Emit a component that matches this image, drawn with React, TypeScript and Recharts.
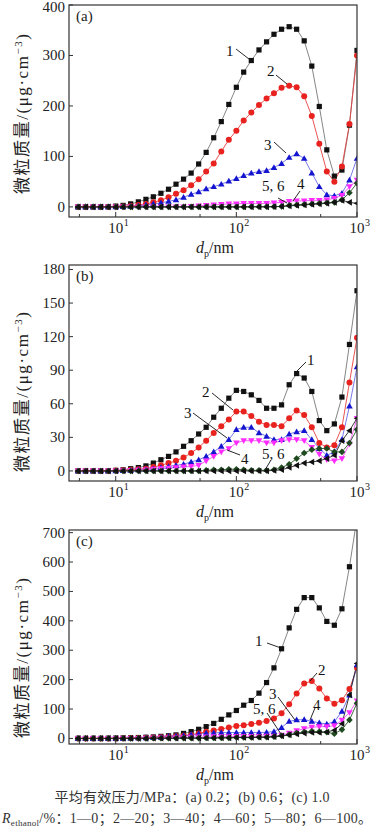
import React from 'react';
import { LineChart, Line, XAxis, YAxis } from 'recharts';

// particle diameters (nm), 16 channels per decade
const SIZES = [
  4.87, 5.62, 6.49, 7.5, 8.66, 10, 11.5, 13.3, 15.4, 17.8, 20.5, 23.7, 27.4, 31.6, 36.5, 42.2, 48.7, 56.2, 64.9,
  75, 86.6, 100, 115, 133, 154, 178, 205, 237, 274, 316, 365, 422, 487, 562, 649, 750, 866, 1000,
];

// (a) 0.2 MPa
const A1 = [0, 0, 0, 0, 0.5, 1.5, 3, 6, 10, 15, 20, 27, 35, 45, 55, 67, 85, 108, 137, 169, 203, 237, 267, 290, 311, 327, 342, 352, 357, 352, 329, 279, 199, 113, 61, 73, 162, 310];
const A2 = [0, 0, 0, 0, 0, 0.5, 1, 2, 4, 6, 9, 13, 19, 26, 33, 43, 55, 70, 86, 110, 133, 151, 171, 187, 202, 215, 225, 236, 240, 237, 219, 180, 125, 70, 50, 80, 164, 300];
const A3 = [0, 0, 0, 0, 0, 0, 0.5, 1, 2, 4, 6, 8, 11, 14, 19, 25, 30, 36, 40, 45, 51, 56, 62, 67, 70, 72, 78, 86, 98, 105, 96, 67, 40, 24, 22, 27, 53, 96];
const A4 = [0, 0, 0, 0, 0, 0, 0, 0, 0, 0, 0, 0, 0, 0, 0, 1, 2, 3, 4, 5, 6, 6, 7, 7, 7, 7, 8, 9, 11, 12, 12, 13, 13, 14, 17, 23, 40, 53];
const A5 = [0, 0, 0, 0, 0, 0, 0, 0, 0, 0, 0, 0, 0, 0, 0, 0, 0, 0, 0, 0, 0, 0, 0, 0.5, 0.5, 0.5, 0.5, 1, 3, 4, 5, 6, 7, 8, 9, 14, 28, 47];
const A6 = [0, 0, 0, 0, 0, 0, 0, 0, 0, 0, 0, 0, 0, 0, 0, 0, 0, 0, 0, 0, 0, 0, 0, 0, 0, 0, 0.5, 1, 2, 3, 4, 5, 6, 7, 9, 13, 9, 7];

// (b) 0.6 MPa
const B1 = [0, 0, 0, 0, 0, 0.5, 1, 2, 3, 4.5, 7, 10, 13, 17, 22, 27, 33, 39, 48, 56, 65, 72, 71, 68, 63, 56, 56, 59, 77, 87, 83, 71, 45, 36, 42, 66, 113, 161];
const B2 = [0, 0, 0, 0, 0, 0.3, 0.5, 1, 1.5, 2, 3.5, 5, 7, 9, 12, 16, 21, 27, 34, 40, 46, 53, 53, 49, 44, 41, 41, 40, 47, 54, 50, 39, 25, 21, 23, 39, 79, 119];
const B3 = [0, 0, 0, 0, 0, 0, 0.3, 0.6, 1, 1.5, 2, 3, 4, 5, 6, 8, 10, 13, 17, 22, 28, 37, 39, 39, 34, 31, 28, 28, 33, 35, 36, 28, 20, 14, 17, 28, 58, 93];
const B4 = [0, 0, 0, 0, 0, 0, 0.3, 0.5, 0.8, 1, 1.5, 2, 2.5, 3, 3.5, 4, 5, 9, 13, 17, 20, 25, 27, 27, 27, 25, 25, 27, 28, 28, 27, 21, 15, 10, 9, 11, 24, 47];
const B5 = [0, 0, 0, 0, 0, 0, 0, 0, 0, 0, 0, 0, 0, 0, 0, 0, 0, 0.5, 1, 1, 1.5, 1.5, 1, 0.5, 0.5, 0.5, 1, 3, 6, 11, 16, 19, 20, 20, 17, 17, 25, 37];
const B6 = [0, 0, 0, 0, 0, 0, 0, 0, 0, 0, 0, 0, 0, 0, 0, 0, 0, 0, 0, 0, 0, 0, 0, 0, 0, 0, 0.5, 1, 3, 5, 7, 8, 9, 11, 14, 27, 36, 47];

// (c) 1.0 MPa
const C1 = [0, 0, 0, 0, 0.5, 1, 1.5, 2, 3, 4, 5, 7, 9, 12, 17, 23, 31, 40, 51, 65, 80, 95, 113, 129, 154, 190, 240, 305, 376, 439, 479, 479, 444, 398, 385, 441, 584, 750];
const C2 = [0, 0, 0, 0, 0, 0, 0.5, 1, 1.5, 2, 3, 4, 5, 7, 9, 12, 17, 23, 27, 32, 37, 42, 45, 49, 53, 59, 68, 86, 116, 153, 187, 195, 170, 136, 118, 130, 168, 240];
const C3 = [0, 0, 0, 0, 0, 0, 0.5, 1, 1.5, 2, 3, 4, 6, 8, 10, 13, 16, 18, 19, 20, 20, 20, 20, 20, 20, 21, 23, 37, 58, 63, 64, 58, 53, 49, 57, 92, 147, 250];
const C4 = [0, 0, 0, 0, 0, 0, 0, 0, 0, 1, 1, 1.5, 2, 2.5, 3, 4, 5, 5, 6, 6, 6, 7, 7, 7, 7, 8, 8, 11, 18, 26, 33, 38, 40, 40, 43, 62, 88, 128];
const C5 = [0, 0, 0, 0, 0, 0, 0, 0, 0, 0, 0.5, 0.5, 0.5, 0.5, 1, 1, 1, 1.5, 1.5, 2, 2, 3, 3, 3, 4, 4, 6, 9, 13, 18, 22, 24, 23, 21, 16, 30, 63, 120];
const C6 = [0, 0, 0, 0, 0, 0, 0, 0, 0, 0, 0.5, 0.5, 0.5, 0.5, 1, 1, 1, 1.5, 1.5, 2, 2, 3, 3, 3, 4, 4, 6, 8, 12, 15, 18, 20, 20, 22, 28, 50, 148, 255];

const X_TICKS = [5, 10, 50, 100, 500, 1000];
const A_TICKS = [0, 100, 200, 300, 400];
const B_TICKS = [0, 30, 60, 90, 120, 150, 180];
const C_TICKS = [0, 100, 200, 300, 400, 500, 600, 700];

const SERIF = '"Liberation Serif", "Times New Roman", "Noto Sans CJK SC", serif';
const W = 376;
const LEFT = 69;
const RIGHT = 357;

const build = (s: number[][]) =>
  SIZES.map((d, i) => ({ d, s1: s[0][i], s2: s[1][i], s3: s[2][i], s4: s[3][i], s5: s[4][i], s6: s[5][i] }));

const marker = (shape: string, fill: string) => (p: any) => {
  const { cx, cy, index } = p;
  if (cx == null || cy == null) return <g key={index} />;
  const r = 3.3;
  if (shape === 'square')
    return <rect key={index} x={cx - 2.6} y={cy - 2.6} width={5.2} height={5.2} fill={fill} />;
  if (shape === 'circle') return <circle key={index} cx={cx} cy={cy} r={3} fill={fill} />;
  let pts = '';
  if (shape === 'up') pts = `${cx},${cy - r} ${cx - r},${cy + 2.4} ${cx + r},${cy + 2.4}`;
  if (shape === 'down') pts = `${cx},${cy + r} ${cx - r},${cy - 2.4} ${cx + r},${cy - 2.4}`;
  if (shape === 'diamond') pts = `${cx},${cy - r} ${cx + r},${cy} ${cx},${cy + r} ${cx - r},${cy}`;
  if (shape === 'left') pts = `${cx - r},${cy} ${cx + 2.4},${cy - r} ${cx + 2.4},${cy + r}`;
  return <polygon key={index} points={pts} fill={fill} />;
};

const SERIES = [
  { key: 's1', line: '#777', fill: '#111', shape: 'square' },
  { key: 's2', line: '#e84040', fill: '#e8231f', shape: 'circle' },
  { key: 's3', line: '#6a6ae8', fill: '#1515d0', shape: 'up' },
  { key: 's4', line: '#f050f0', fill: '#ff2bff', shape: 'down' },
  { key: 's5', line: '#2a5a2a', fill: '#1f4a1f', shape: 'diamond' },
  { key: 's6', line: '#222', fill: '#111', shape: 'left' },
];

const makeXTick = (bottom: number) => (p: any) => {
  const { x, payload } = p;
  const v = payload.value;
  const major = v === 10 || v === 100 || v === 1000;
  const exp = v === 10 ? '1' : v === 100 ? '2' : '3';
  return (
    <g>
      <line x1={x} x2={x} y1={bottom} y2={bottom - (major ? 5 : 3)} stroke="#333" />
      {major && (
        <g fontFamily={SERIF} fill="#222">
          <text x={x} y={bottom + 16} textAnchor="middle" fontSize={15}>10</text>
          <text x={x + 8} y={bottom + 9} fontSize={10}>{exp}</text>
        </g>
      )}
    </g>
  );
};

const YTick = (p: any) => {
  const { y, payload } = p;
  return (
    <g>
      <line x1={LEFT} x2={LEFT + 4} y1={y} y2={y} stroke="#333" />
      <text x={LEFT - 4} y={Math.max(y + 5, 12)} textAnchor="end" fontSize={15} fontFamily={SERIF} fill="#222">
        {payload.value}
      </text>
    </g>
  );
};

function Panel({ top, plotTop, plotBottom, data, domain, ticks }: any) {
  const mTop = plotTop - top;
  const h = plotBottom - top + 25;
  return (
    <div style={{ position: 'absolute', left: 0, top }}>
      <LineChart width={W} height={h} data={data} margin={{ top: mTop, right: W - RIGHT, left: 0, bottom: 0 }}>
        <XAxis
          dataKey="d"
          type="number"
          scale="log"
          domain={[4.1, 1000]}
          allowDataOverflow
          ticks={X_TICKS}
          interval={0}
          height={25}
          axisLine={false}
          tickLine={false}
          tick={makeXTick(plotBottom - top)}
        />
        <YAxis
          type="number"
          domain={domain}
          allowDataOverflow
          ticks={ticks}
          interval={0}
          width={LEFT}
          axisLine={false}
          tickLine={false}
          tick={YTick}
        />
        {SERIES.map((s) => (
          <Line
            key={s.key}
            dataKey={s.key}
            type="linear"
            stroke={s.line}
            strokeWidth={0.9}
            dot={marker(s.shape, s.fill)}
            activeDot={false}
            isAnimationActive={false}
          />
        ))}
      </LineChart>
    </div>
  );
}

const FRAMES = [
  { top: 5, bottom: 217, tag: '(a)' },
  { top: 265, bottom: 481, tag: '(b)' },
  { top: 530, bottom: 744, tag: '(c)' },
];

const YTITLE_Y = [114, 392, 658];

const LEADERS = [
  { t: '1', tx: 226, ty: 56, x1: 236, y1: 49, x2: 249, y2: 59 },
  { t: '2', tx: 267, ty: 76, x1: 276, y1: 75, x2: 287, y2: 84 },
  { t: '3', tx: 264, ty: 150, x1: 274, y1: 142, x2: 286, y2: 153 },
  { t: '5, 6', tx: 262, ty: 191, x1: 278, y1: 198, x2: 287, y2: 203 },
  { t: '4', tx: 297, ty: 189, x1: 300, y1: 191, x2: 293, y2: 201 },
  { t: '1', tx: 307, ty: 365, x1: 306, y1: 362, x2: 296, y2: 372 },
  { t: '2', tx: 202, ty: 397, x1: 212, y1: 393, x2: 233, y2: 410 },
  { t: '3', tx: 184, ty: 418, x1: 193, y1: 413, x2: 227, y2: 438 },
  { t: '4', tx: 241, ty: 464, x1: 240, y1: 455, x2: 227, y2: 450 },
  { t: '5, 6', tx: 262, ty: 459, x1: 271, y1: 460, x2: 265, y2: 470 },
  { t: '1', tx: 255, ty: 646, x1: 267, y1: 643, x2: 281, y2: 648 },
  { t: '2', tx: 318, ty: 675, x1: 317, y1: 673, x2: 310, y2: 681 },
  { t: '3', tx: 269, ty: 699, x1: 278, y1: 697, x2: 295, y2: 720 },
  { t: '4', tx: 313, ty: 710, x1: 315, y1: 708, x2: 310, y2: 720 },
  { t: '5, 6', tx: 253, ty: 714, x1: 267, y1: 713, x2: 281, y2: 734 },
];

function Overlay() {
  return (
    <svg width={W} height={833} style={{ position: 'absolute', left: 0, top: 0, pointerEvents: 'none' }} fontFamily={SERIF}>
      {FRAMES.map((f, i) => (
        <g key={i}>
          <rect x={LEFT} y={f.top} width={RIGHT - LEFT} height={f.bottom - f.top} fill="none" stroke="#333" strokeWidth={1.2} />
          <text x={76} y={f.top + 16} fontSize={15} fill="#222">{f.tag}</text>
          <text x={215} y={f.bottom + 36} textAnchor="middle" fontSize={16} fill="#222">
            <tspan fontStyle="italic">d</tspan>
            <tspan fontSize={10} dy={4}>p</tspan>
            <tspan dy={-4}>/nm</tspan>
          </text>
          <text
            x={28}
            y={YTITLE_Y[i]}
            transform={`rotate(-90 28 ${YTITLE_Y[i]})`}
            textAnchor="middle"
            fontSize={17}
            textLength={160}
            lengthAdjust="spacing"
            fill="#222"
          >
            微粒质量/(μg·cm<tspan dy={-6} fontSize={11}>−3</tspan>
            <tspan dy={6}>)</tspan>
          </text>
        </g>
      ))}
      {LEADERS.map((l, i) => (
        <g key={i}>
          <line x1={l.x1} y1={l.y1} x2={l.x2} y2={l.y2} stroke="#111" strokeWidth={0.9} />
          <text x={l.tx} y={l.ty} fontSize={15} fill="#111">{l.t}</text>
        </g>
      ))}
      <text x={192} y={802} textAnchor="middle" fontSize={14} fill="#333" textLength={275} lengthAdjust="spacing">
        平均有效压力/MPa：(a) 0.2；(b) 0.6；(c) 1.0
      </text>
      <text x={2} y={823} fontSize={14} fill="#333" textLength={370} lengthAdjust="spacing">
        <tspan fontStyle="italic">R</tspan>
        <tspan fontSize={9} dy={3}>ethanol</tspan>
        <tspan dy={-3}>/%：1—0；2—20；3—40；4—60；5—80；6—100。</tspan>
      </text>
    </svg>
  );
}

export default function App() {
  const dataA = build([A1, A2, A3, A4, A5, A6]);
  const dataB = build([B1, B2, B3, B4, B5, B6]);
  const dataC = build([C1, C2, C3, C4, C5, C6]);
  return (
    <div style={{ position: 'absolute', left: 0, top: 0, width: W, height: 833, background: '#fff' }}>
      <Panel top={0} plotTop={5} plotBottom={217} data={dataA} domain={[-20, 400]} ticks={A_TICKS} />
      <Panel top={260} plotTop={265} plotBottom={481} data={dataB} domain={[-9, 184]} ticks={B_TICKS} />
      <Panel top={525} plotTop={530} plotBottom={744} data={dataC} domain={[-19, 709]} ticks={C_TICKS} />
      <Overlay />
    </div>
  );
}
